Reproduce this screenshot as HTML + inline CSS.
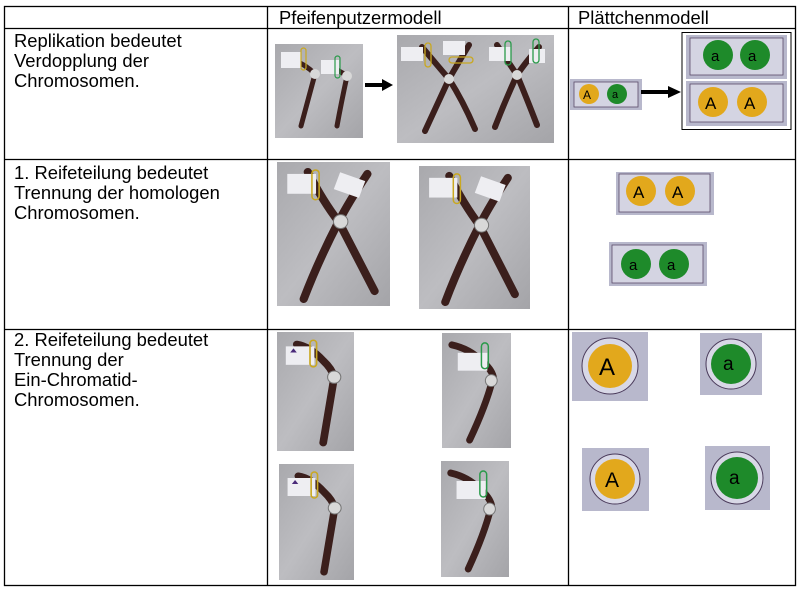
<!DOCTYPE html>
<html><head><meta charset="utf-8"><style>
html,body{margin:0;padding:0;background:#fff;width:800px;height:591px;overflow:hidden}
svg{display:block}
text{font-family:"Liberation Sans",Arial,sans-serif;fill:#000}
</style></head><body>
<svg width="800" height="591" viewBox="0 0 800 591" xmlns="http://www.w3.org/2000/svg">
<defs>
<linearGradient id="bg" x1="0" y1="0" x2="1" y2="1"><stop offset="0" stop-color="#a9a9ad"/><stop offset="0.5" stop-color="#bdbdc1"/><stop offset="1" stop-color="#a4a4a8"/></linearGradient>
<symbol id="single" viewBox="0 0 70 116" preserveAspectRatio="none">
<rect width="70" height="116" fill="url(#bg)"/>
<path d="M18 12 Q30 14 42 28 Q50 36 52 44 Q48 70 42 108" fill="none" stroke="#3b1f1c" stroke-width="7" stroke-linecap="round"/>
<rect x="8" y="14" width="26" height="18" fill="#eeeef2"/>
<path d="M12 20 l3 -4 l3 4 z" fill="#4a2a7a"/>
<rect x="30" y="8" width="6" height="26" rx="3" fill="none" stroke="#c9a820" stroke-width="1.5"/>
<circle cx="52" cy="44" r="6" fill="#d8d8d8" stroke="#777" stroke-width="1"/>
</symbol>
<symbol id="singleg" viewBox="0 0 70 116" preserveAspectRatio="none">
<rect width="70" height="116" fill="url(#bg)"/>
<path d="M10 12 Q28 16 40 28 Q50 36 52 44 Q46 70 28 108" fill="none" stroke="#3b1f1c" stroke-width="7" stroke-linecap="round"/>
<rect x="16" y="20" width="30" height="18" fill="#eeeef2"/>
<rect x="40" y="10" width="7" height="26" rx="3.5" fill="none" stroke="#2a9a4a" stroke-width="1.5"/>
<circle cx="50" cy="48" r="6" fill="#d8d8d8" stroke="#777" stroke-width="1"/>
</symbol>
<symbol id="xchrom" viewBox="0 0 110 145" preserveAspectRatio="none">
<rect width="110" height="145" fill="url(#bg)"/>
<path d="M30 10 Q45 40 60 60 Q80 100 95 130" fill="none" stroke="#3b1f1c" stroke-width="8" stroke-linecap="round"/>
<path d="M88 12 Q70 40 60 60 Q40 100 26 138" fill="none" stroke="#3b1f1c" stroke-width="8" stroke-linecap="round"/>
<rect x="10" y="12" width="28" height="20" fill="#eeeef2"/>
<rect x="58" y="14" width="26" height="18" fill="#eeeef2" transform="rotate(20 70 22)"/>
<rect x="34" y="8" width="7" height="30" rx="3.5" fill="none" stroke="#c9a820" stroke-width="1.5"/>
<circle cx="62" cy="60" r="7" fill="#d8d8d8" stroke="#777" stroke-width="1"/>
</symbol>
</defs>

<g stroke="#000" stroke-width="1.3" fill="none">
<rect x="4.5" y="6.5" width="791" height="579"/>
<line x1="4" y1="28.5" x2="796" y2="28.5"/>
<line x1="4" y1="159.5" x2="796" y2="159.5"/>
<line x1="4" y1="329.5" x2="796" y2="329.5"/>
<line x1="267.5" y1="6" x2="267.5" y2="586"/>
<line x1="568.5" y1="6" x2="568.5" y2="586"/>
</g>

<g font-size="18.4">
<text x="279" y="24">Pfeifenputzermodell</text>
<text x="578" y="24">Plättchenmodell</text>
<text x="14" y="47">Replikation bedeutet</text>
<text x="14" y="67">Verdopplung der</text>
<text x="14" y="87">Chromosomen.</text>
<text x="14" y="179">1. Reifeteilung bedeutet</text>
<text x="14" y="199">Trennung der homologen</text>
<text x="14" y="219">Chromosomen.</text>
<text x="14" y="346">2. Reifeteilung bedeutet</text>
<text x="14" y="366">Trennung der</text>
<text x="14" y="386">Ein-Chromatid-</text>
<text x="14" y="406">Chromosomen.</text>
</g>

<svg x="275" y="44" width="88" height="94" viewBox="0 0 88 94" preserveAspectRatio="none">
<rect width="88" height="94" fill="url(#bg)"/>
<path d="M18 16 Q30 20 40 30 Q32 60 26 82" fill="none" stroke="#3b1f1c" stroke-width="5" stroke-linecap="round"/>
<path d="M52 22 Q64 26 72 32 Q66 60 62 82" fill="none" stroke="#3b1f1c" stroke-width="5" stroke-linecap="round"/>
<rect x="6" y="8" width="20" height="16" fill="#eeeef2"/><rect x="46" y="16" width="18" height="14" fill="#eeeef2"/>
<rect x="26" y="4" width="5" height="22" rx="2.5" fill="none" stroke="#c9a820" stroke-width="1.2"/>
<rect x="60" y="12" width="5" height="22" rx="2.5" fill="none" stroke="#2a9a4a" stroke-width="1.2"/>
<circle cx="40" cy="30" r="5" fill="#d8d8d8"/><circle cx="72" cy="32" r="5" fill="#d8d8d8"/>
</svg>
<path d="M365 85 H384" stroke="#000" stroke-width="4"/><path d="M382 79 L393 85 L382 91 Z" fill="#000"/>
<svg x="397" y="35" width="157" height="108" viewBox="0 0 157 108" preserveAspectRatio="none">
<rect width="157" height="108" fill="url(#bg)"/>
<path d="M25 12 Q40 30 52 44 Q66 66 78 94" fill="none" stroke="#3b1f1c" stroke-width="6" stroke-linecap="round"/>
<path d="M72 10 Q60 30 52 44 Q40 70 28 96" fill="none" stroke="#3b1f1c" stroke-width="6" stroke-linecap="round"/>
<path d="M100 10 Q112 28 120 40 Q130 64 140 90" fill="none" stroke="#3b1f1c" stroke-width="6" stroke-linecap="round"/>
<path d="M142 12 Q128 28 120 40 Q108 66 98 92" fill="none" stroke="#3b1f1c" stroke-width="6" stroke-linecap="round"/>
<rect x="4" y="12" width="22" height="14" fill="#eeeef2"/><rect x="46" y="6" width="22" height="14" fill="#eeeef2"/>
<rect x="92" y="12" width="22" height="14" fill="#eeeef2"/><rect x="132" y="14" width="16" height="14" fill="#eeeef2"/>
<rect x="28" y="8" width="6" height="24" rx="3" fill="none" stroke="#c9a820" stroke-width="1.3"/>
<rect x="52" y="22" width="24" height="6" rx="3" fill="none" stroke="#c9a820" stroke-width="1.3"/>
<rect x="108" y="6" width="6" height="24" rx="3" fill="none" stroke="#2a9a4a" stroke-width="1.3"/>
<rect x="136" y="4" width="6" height="24" rx="3" fill="none" stroke="#2a9a4a" stroke-width="1.3"/>
<circle cx="52" cy="44" r="5" fill="#d8d8d8"/><circle cx="120" cy="40" r="5" fill="#d8d8d8"/>
</svg>

<g>
<rect x="570" y="79" width="72" height="31" fill="#b8b8cc"/>
<rect x="574" y="82" width="64" height="25" fill="#d4d4e2" stroke="#5a4a6a" stroke-width="0.8"/>
<circle cx="589" cy="94" r="10" fill="#e2a81c"/><text x="583" y="99" font-size="12" fill="#4a3010">A</text>
<circle cx="617" cy="94" r="10" fill="#1e8a2a"/><text x="612" y="98" font-size="11" fill="#0a3a10">a</text>
<path d="M641 92 H670" stroke="#000" stroke-width="4"/><path d="M668 86 L681 92 L668 98 Z" fill="#000"/>
<rect x="682" y="32.5" width="109" height="97" fill="#fff" stroke="#000" stroke-width="1"/>
<rect x="686" y="35" width="101" height="44" fill="#b8b8cc"/>
<rect x="690" y="38" width="93" height="37" fill="#d4d4e2" stroke="#5a4a6a" stroke-width="0.8"/>
<circle cx="718" cy="55" r="15" fill="#1e8a2a"/><text x="711" y="61" font-size="15" fill="#0a3a10">a</text>
<circle cx="755" cy="55" r="15" fill="#1e8a2a"/><text x="748" y="61" font-size="15" fill="#0a3a10">a</text>
<rect x="686" y="81" width="101" height="45" fill="#b8b8cc"/>
<rect x="690" y="84" width="93" height="38" fill="#d4d4e2" stroke="#5a4a6a" stroke-width="0.8"/>
<circle cx="713" cy="102" r="15" fill="#e2a81c"/><text x="705" y="109" font-size="17" fill="#4a3010">A</text>
<circle cx="752" cy="102" r="15" fill="#e2a81c"/><text x="744" y="109" font-size="17" fill="#4a3010">A</text>
</g>

<use href="#xchrom" x="277" y="162" width="113" height="144"/>
<use href="#xchrom" x="419" y="166" width="111" height="143"/>
<g>
<rect x="616" y="172" width="98" height="43" fill="#b8b8cc"/>
<rect x="619" y="174" width="91" height="38" fill="#d4d4e2" stroke="#5a4a6a" stroke-width="0.8"/>
<circle cx="641" cy="191" r="15" fill="#e2a81c"/><text x="633" y="198" font-size="17" fill="#4a3010">A</text>
<circle cx="680" cy="191" r="15" fill="#e2a81c"/><text x="672" y="198" font-size="17" fill="#4a3010">A</text>
<rect x="609" y="242" width="98" height="44" fill="#b8b8cc"/>
<rect x="612" y="245" width="91" height="38" fill="#d4d4e2" stroke="#5a4a6a" stroke-width="0.8"/>
<circle cx="636" cy="264" r="15" fill="#1e8a2a"/><text x="629" y="270" font-size="15" fill="#0a3a10">a</text>
<circle cx="674" cy="264" r="15" fill="#1e8a2a"/><text x="667" y="270" font-size="15" fill="#0a3a10">a</text>
</g>

<use href="#single" x="277" y="332" width="77" height="119"/>
<use href="#singleg" x="442" y="333" width="69" height="115"/>
<use href="#single" x="279" y="464" width="75" height="116"/>
<use href="#singleg" x="441" y="461" width="68" height="116"/>
<g>
<rect x="572" y="332" width="76" height="69" fill="#b8b8cc"/>
<circle cx="610" cy="366" r="28" fill="#d8d8e6" stroke="#4a3a5a" stroke-width="1"/>
<circle cx="610" cy="366" r="22" fill="#e2a81c"/><text x="599" y="375" font-size="24" fill="#4a3010">A</text>
<rect x="700" y="333" width="62" height="62" fill="#b8b8cc"/>
<circle cx="731" cy="364" r="25" fill="#d8d8e6" stroke="#4a3a5a" stroke-width="1"/>
<circle cx="731" cy="364" r="20" fill="#1e8a2a"/><text x="723" y="370" font-size="19" fill="#0a3a10">a</text>
<rect x="582" y="448" width="67" height="63" fill="#b8b8cc"/>
<circle cx="615" cy="479" r="25" fill="#d8d8e6" stroke="#4a3a5a" stroke-width="1"/>
<circle cx="615" cy="479" r="20" fill="#e2a81c"/><text x="605" y="487" font-size="21" fill="#4a3010">A</text>
<rect x="705" y="446" width="65" height="64" fill="#b8b8cc"/>
<circle cx="737" cy="478" r="26" fill="#d8d8e6" stroke="#4a3a5a" stroke-width="1"/>
<circle cx="737" cy="478" r="21" fill="#1e8a2a"/><text x="729" y="484" font-size="19" fill="#0a3a10">a</text>
</g>
</svg>
</body></html>
